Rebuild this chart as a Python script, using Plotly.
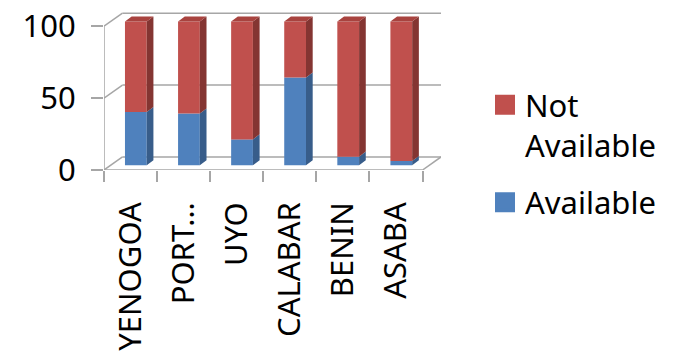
import plotly.graph_objects as go

# ---- data -------------------------------------------------------------
cities = ["YENOGOA", "PORT…", "UYO", "CALABAR", "BENIN", "ASABA"]
available = [37, 36, 18, 61, 6, 3]
not_available = [100 - v for v in available]
y_ticks = [0, 50, 100]

# ---- pseudo-3D geometry (data units) ------------------------------------
DEPTH_X, DEPTH_Y = 0.348, 9.06      # depth of the floor / walls
BAR_SHIFT_X = 0.10                  # bar front face offset from category centre
BAR_W = 0.41                        # width of the bar front face
LIFT = 3.3                          # front face raised above the floor front edge
BAR_DX, BAR_DY = 0.126, 3.5         # depth of each bar

RED, RED_SIDE, RED_TOP = "#C0504D", "#843532", "#A8433F"
BLUE, BLUE_SIDE = "#4F81BD", "#385D8A"
GRID = "#A6A6A6"
FONT = "Noto Sans"

n = len(cities)
x_left, x_right = -0.5, n - 0.5
idx = list(range(n))

fig = go.Figure()

# walls and floor (behind the bars)
shapes = []
def seg(x0, y0, x1, y1):
    shapes.append(dict(type="line", xref="x", yref="y", x0=x0, y0=y0, x1=x1, y1=y1,
                       line=dict(color=GRID, width=1.5), layer="below"))

for v in y_ticks:
    seg(x_left, v, x_left + DEPTH_X, v + DEPTH_Y)
    seg(x_left + DEPTH_X, v + DEPTH_Y, x_right + DEPTH_X, v + DEPTH_Y)
seg(x_left, 0, x_left, max(y_ticks))
seg(x_left, 0, x_right, 0)
seg(x_right, 0, x_right + DEPTH_X, DEPTH_Y)

# front faces
bx = [i + BAR_SHIFT_X for i in idx]
fig.add_trace(go.Bar(x=bx, y=available, base=[LIFT] * n, width=BAR_W,
                     marker=dict(color=BLUE, line=dict(width=0)), showlegend=False,
                     hoverinfo="skip"))
fig.add_trace(go.Bar(x=bx, y=not_available, base=[LIFT + a for a in available], width=BAR_W,
                     marker=dict(color=RED, line=dict(width=0)), showlegend=False,
                     hoverinfo="skip"))

# side and top faces
def side_poly(lo, hi):
    xs, ys = [], []
    for i in idx:
        xr = i + BAR_SHIFT_X + BAR_W / 2
        y0, y1 = LIFT + lo[i], LIFT + hi[i]
        xs += [xr, xr + BAR_DX, xr + BAR_DX, xr, xr, None]
        ys += [y0, y0 + BAR_DY, y1 + BAR_DY, y1, y0, None]
    return xs, ys

totals = [a + b for a, b in zip(available, not_available)]
sx, sy = side_poly([0] * n, available)
fig.add_trace(go.Scatter(x=sx, y=sy, fill="toself", fillcolor=BLUE_SIDE, mode="none",
                         showlegend=False, hoverinfo="skip"))
sx, sy = side_poly(available, totals)
fig.add_trace(go.Scatter(x=sx, y=sy, fill="toself", fillcolor=RED_SIDE, mode="none",
                         showlegend=False, hoverinfo="skip"))
tx, ty = [], []
for i in idx:
    xl = i + BAR_SHIFT_X - BAR_W / 2
    xr = xl + BAR_W
    yt = LIFT + totals[i]
    tx += [xl, xr, xr + BAR_DX, xl + BAR_DX, xl, None]
    ty += [yt, yt, yt + BAR_DY, yt + BAR_DY, yt, None]
fig.add_trace(go.Scatter(x=tx, y=ty, fill="toself", fillcolor=RED_TOP, mode="none",
                         showlegend=False, hoverinfo="skip"))

# legend entries
for name, col, grp in [("Not<br>Available", RED, "na"), ("Available", BLUE, "a")]:
    fig.add_trace(go.Scatter(x=[None], y=[None], mode="markers", name=name, legendgroup=grp,
                             marker=dict(symbol="square", size=16, color=col,
                                         line=dict(color=col, width=4))))

PX_X = 53.1
PX_Y = 1.49
Y_MAX = 112
plot_w = (x_right + DEPTH_X - x_left) * PX_X
plot_h = Y_MAX * PX_Y
left, bottom = 104, 356 - 171.7

fig.update_layout(
    width=683, height=356, autosize=False,
    margin=dict(l=left, r=683 - left - plot_w, b=bottom, t=356 - bottom - plot_h, pad=0),
    paper_bgcolor="white", plot_bgcolor="white",
    barmode="overlay", shapes=shapes,
    font=dict(family=FONT, color="black", size=31),
    legend=dict(xref="container", yref="container", x=485 / 683, y=1 - 78 / 356,
                xanchor="left", yanchor="top", valign="top",
                font=dict(family=FONT, size=31, color="black"),
                bgcolor="rgba(0,0,0,0)", traceorder="grouped", tracegroupgap=14),
)
fig.update_xaxes(range=[x_left, x_right + DEPTH_X], showgrid=False, zeroline=False,
                 showline=False, tickmode="array", tickvals=idx, ticktext=cities,
                 ticks="", tickangle=-90, ticklabelstandoff=25,
                 tickfont=dict(family=FONT, size=31, color="black"),
                 minor=dict(tickmode="array", tickvals=[i - 0.5 for i in range(n + 1)],
                            ticks="outside", ticklen=11, tickwidth=1.5, tickcolor=GRID,
                            showgrid=False))
fig.update_yaxes(range=[0, Y_MAX], showgrid=False, zeroline=False, showline=False,
                 tickmode="array", tickvals=y_ticks, ticks="outside", ticklen=12,
                 tickwidth=1.5, tickcolor=GRID, ticklabelstandoff=9,
                 tickfont=dict(family=FONT, size=31, color="black"))

fig.write_html("out.html")
